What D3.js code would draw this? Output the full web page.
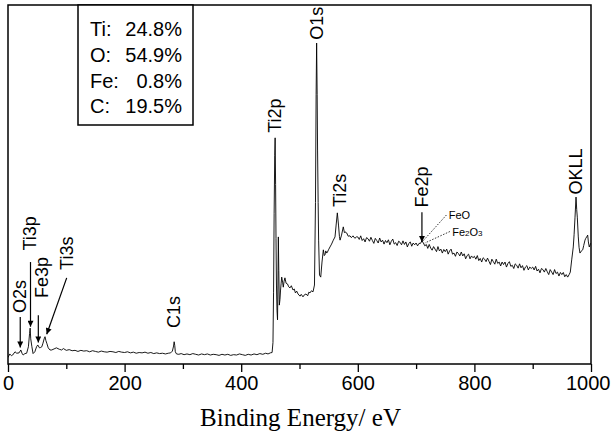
<!DOCTYPE html>
<html><head><meta charset="utf-8">
<script src="https://cdn.jsdelivr.net/npm/d3@7"></script>
<style>body{margin:0;background:#fff} svg{display:block}</style>
</head><body><svg id="c" width="612" height="434"></svg>
<script>
// XPS survey spectrum: [binding energy (eV), intensity (a.u.)]
const spectrum = [
[0,1.8],[3,2.8],[6,2.3],[8,2.5],[12,3.4],[15,3.0],[19,3.1],[22,3.9],[24,3.0],[26,2.5],[29,2.9],[32,3.0],[35,4.8],[37,8.5],[38,10.0],[39,7.0],[41,4.8],[43,2.9],[46,3.4],[49,4.8],[51,5.3],[54,4.5],[56,4.6],[58,4.8],[60,5.8],[62,7.0],[63.5,7.6],[65,6.5],[66.5,5.8],[69,4.5],[72,3.9],[75,3.9],[79,4.2],[83,4.5],[88,4.1],[92,3.9],[95,4.3],[100,3.8],[105,4.0],[110,3.7],[115,3.8],[120,3.5],[125,3.8],[130,3.6],[135,3.7],[140,3.4],[145,3.7],[150,3.5],[155,3.3],[160,3.6],[165,3.4],[170,3.3],[175,3.5],[180,3.4],[185,3.2],[190,3.5],[195,3.3],[200,3.2],[205,3.4],[210,3.1],[215,3.3],[220,3.0],[225,3.2],[230,3.1],[235,3.3],[240,3.0],[245,3.2],[250,2.9],[255,3.1],[260,2.9],[265,3.0],[270,2.8],[275,3.0],[279,3.1],[282,3.6],[284,5.0],[285,6.2],[286,5.2],[287,3.4],[289,2.8],[293,2.7],[297,2.9],[302,2.6],[307,2.8],[312,2.6],[317,2.9],[322,2.7],[327,2.5],[332,2.8],[337,2.6],[342,2.8],[347,2.5],[352,2.7],[357,2.6],[362,2.4],[367,2.7],[372,2.5],[377,2.7],[382,2.4],[387,2.6],[392,2.5],[397,2.8],[402,2.6],[407,2.4],[412,2.7],[417,2.5],[422,2.8],[427,2.6],[432,2.9],[437,2.7],[442,3.0],[446,2.8],[450,3.1],[453,3.2],
[454.5,6],[455.5,20],[456.5,42],[457.5,58],[458.2,63.0],[459,50],[459.7,35],[460.5,22],[461.4,15],[462.3,12.3],[463,22],[463.7,35.4],[464.5,26],[465.4,16.4],[466.5,18],[467.5,20.6],[468.5,22.5],[469.5,24.2],[471,22.8],[472.2,21.4],[473.5,23],[475,24.0],[477,22.5],[479.4,22.3],[481.5,21.5],[483.7,21.2],[486,21.8],[488.9,20.6],[491,20.9],[493,19.8],[495.2,20.3],[497.5,19.5],[500.9,18.9],[503,19.4],[506,18.7],[508.5,19.3],[511.1,19.5],[514,19.0],[516,20.0],[518,19.8],[520.5,20.4],[523.2,20.1],[525.7,22.0],
[527.4,45],[528.5,75],[529.4,89.4],[530.3,75],[531,59.6],[532,45],[532.8,34.5],[534.3,24.8],[536.4,24.2],[538.6,28.4],[540.9,31.8],[542.5,30.2],[543.7,30.4],[545,31.5],[546.7,30.9],[548,31.2],[549.7,31.8],[552.3,32.6],[555,33.4],[558,34.5],[560.9,35.4],[563,39],[564.9,42.1],[566.9,38.7],[568.5,35.5],[569.6,34.5],[572.1,35.9],[575.1,38.2],[577,36.6],[578,36.8],[581,36.5],[583.5,35.6],[586.6,35.7],[589,35.2],[591.8,35.7],[595,35.0],[597.5,35.4],
[600,35.4],[602.5,34.7],[605,35.7],[607.5,34.4],[610,34.9],[612.5,34.0],[615,35.2],[617.5,34.9],[620,34.2],[622.5,35.3],[625,34.4],[627.5,33.6],[630,35.0],[632.5,34.4],[635,33.7],[637.5,35.1],[640,34.0],[642.5,34.5],[645,33.4],[647.5,34.4],
[650,33.8],[652.5,34.6],[655,33.2],[657.5,34.2],[660,34.8],[662.5,33.4],[665,33.8],[667.5,33.0],[670,34.2],[672.5,33.9],[675,33.2],[677.5,34.3],[680,33.3],[682.5,34.0],[685,32.6],[687.5,33.6],[690,34.0],[692.5,32.8],[695,33.7],[697.5,33.2],
[700,33.7],[702.5,32.9],[705,33.6],[707.5,33.6],[710,34.3],[712.5,33.7],[715,32.9],[717.5,33.3],[720,32.2],[722.5,33.3],[725,32.3],[727.5,31.7],[730,32.7],[732.5,32.0],[735,31.3],[737.5,32.7],[740,31.5],[742.5,32.0],[745,30.9],[747.5,31.9],
[750,31.3],[752.5,32.0],[755,30.6],[757.5,31.5],[760,32.0],[762.5,30.6],[765,30.9],[767.5,30.0],[770,31.2],[772.5,30.8],[775,30.1],[777.5,31.2],[780,30.1],[782.5,30.7],[785,29.3],[787.5,30.2],[790,30.6],[792.5,29.3],[795,30.1],[797.5,29.6],
[800,30.0],[802.5,29.2],[805,30.2],[807.5,28.8],[810,29.4],[812.5,28.4],[815,29.6],[817.5,29.2],[820,28.5],[822.5,29.5],[825,28.6],[827.5,27.7],[830,29.2],[832.5,28.5],[835,27.8],[837.5,29.2],[840,28.0],[842.5,28.4],[845,27.3],[847.5,28.4],
[850,27.7],[852.5,28.4],[855,27.0],[857.5,28.0],[860,28.5],[862.5,27.2],[865,27.5],[867.5,26.6],[870,27.9],[872.5,27.5],[875,26.7],[877.5,27.9],[880,26.8],[882.5,27.4],[885,26.1],[887.5,27.0],[890,27.4],[892.5,26.2],[895,27.0],[897.5,26.6],
[900,27.0],[902.5,26.2],[905,27.2],[907.5,25.9],[910,26.4],[912.5,25.4],[915,26.6],[917.5,26.3],[920,25.6],[922.5,26.6],[925,25.7],[927.5,24.9],[930,26.3],[932.5,25.6],[935,24.9],[937.5,26.3],[940,25.2],[942.5,25.6],[945,24.5],[947.5,25.5],
[950,24.9],[952.5,25.5],[955,24.3],[957.5,24.9],[960,24.2],[962.5,24.9],[964.5,25.6],
[966.9,29.0],[969.6,32.6],[971,36],[972.6,40.9],[974.3,46.5],[975.5,43],[976.5,40.9],[978.2,35.4],[979.5,32.5],[981.1,30.9],[983,31.4],[985.8,31.8],[987.5,33],[989.7,34.5],[991,35.0],[992.6,35.4],[994.3,35.9],[995.5,34],[997,32.6],[998.5,33.2],[1000,33.7]
];
const majorTicks = [0, 200, 400, 600, 800, 1000];
const minorTicks = [100, 300, 500, 700, 900];
const elements = ["Ti:", "O:", "Fe:", "C:"];
const atomicPercent = ["24.8%", "54.9%", "0.8%", "19.5%"];
const xTitle = "Binding Energy/ eV";
// peak labels: text anchored at (be, i) (bottom of rotated text); optional arrow from -> to
const peakLabels = [
  {text:"O2s",  be:20.6, i:14.2, arrow:[[21,13.1],[21,4.6]]},
  {text:"Ti3p", be:38.0, i:31.6, arrow:[[38.6,28.4],[38.6,10.4]]},
  {text:"Fe3p", be:57.5, i:18.4, arrow:[[52,13.6],[52,6.0]]},
  {text:"Ti3s", be:100.5, i:26.2, arrow:[[100.7,24.0],[66.4,8.3]]},
  {text:"C1s",  be:285, i:10.0},
  {text:"Ti2p", be:458.2, i:64.4},
  {text:"O1s",  be:529.4, i:90.3},
  {text:"Ti2s", be:569.5, i:43.7},
  {text:"Fe2p", be:710, i:43.6, arrow:[[710,42.3],[710,34.0]]},
  {text:"OKLL", be:974.3, i:47.2}
];
const chemLabels = [
  {parts:[["FeO",false]], be:756, i:40.3, from:[752,41.5], to:[712,34.3]},
  {parts:[["Fe",false],["2",true],["O",false],["3",true]], be:762, i:35.6, from:[758,36.9], to:[715,33.7]}
];

const svg = d3.select("#c");
const x = d3.scaleLinear().domain([0, 1000]).range([8, 591]);
const y = d3.scaleLinear().domain([0, 100]).range([364, 5]);
const sans = "'Liberation Sans', Arial, Helvetica, sans-serif";

svg.append("defs").append("marker")
  .attr("id", "ah").attr("viewBox", "0 0 10 10").attr("refX", 10).attr("refY", 5)
  .attr("markerUnits", "userSpaceOnUse").attr("markerWidth", 9).attr("markerHeight", 6)
  .attr("orient", "auto")
  .append("path").attr("d", "M0,0L10,5L0,10z").attr("fill", "#000");

svg.append("clipPath").attr("id", "clip").append("rect")
  .attr("x", x(0)).attr("y", y(100)).attr("width", x(1000) - x(0)).attr("height", y(0) - y(100));

// spectrum
svg.append("path").datum(spectrum)
  .attr("clip-path", "url(#clip)")
  .attr("fill", "none").attr("stroke", "#000").attr("stroke-width", 0.9).attr("stroke-linejoin", "round")
  .attr("d", d3.line().x(d => x(d[0])).y(d => y(d[1])));

// x axis
const gx = svg.append("g").attr("transform", `translate(0,${y(0)})`);
gx.call(d3.axisBottom(x).tickValues(majorTicks).tickSize(8).tickSizeOuter(0).tickPadding(4).tickFormat(d3.format("d")));
gx.append("g").call(d3.axisBottom(x).tickValues(minorTicks).tickSize(5).tickSizeOuter(0).tickFormat(""));
gx.selectAll(".domain").remove();
gx.selectAll("line").attr("stroke", "#000").attr("stroke-width", 1.3);
gx.selectAll("text").attr("font-family", sans).attr("font-size", 20).attr("fill", "#000");
gx.selectAll(".tick text").filter(d => d === 1000).attr("text-anchor", "end").attr("dx", 19);

// frame
svg.append("rect").attr("x", x(0)).attr("y", y(100)).attr("width", x(1000) - x(0)).attr("height", y(0) - y(100))
  .attr("fill", "none").attr("stroke", "#000").attr("stroke-width", 1.5);

// axis title
svg.append("text").attr("x", (x(0) + x(1000)) / 2 + 1).attr("y", 426).attr("text-anchor", "middle")
  .attr("font-family", "'Liberation Serif', 'Times New Roman', serif").attr("font-size", 25).attr("fill", "#000")
  .text(xTitle);

// composition box
const box = svg.append("g");
box.append("rect").attr("x", 78).attr("y", y(100)).attr("width", 115).attr("height", 120)
  .attr("fill", "#fff").attr("stroke", "#000").attr("stroke-width", 1.5);
elements.forEach((el, k) => {
  box.append("text").attr("x", 90).attr("y", 36 + k * 25.8).attr("font-family", sans).attr("font-size", 20).text(el);
  box.append("text").attr("x", 182).attr("y", 36 + k * 25.8).attr("text-anchor", "end").attr("font-family", sans).attr("font-size", 20).text(atomicPercent[k]);
});

// peak labels
const pl = svg.append("g");
peakLabels.forEach(p => {
  const px = x(p.be), py = y(p.i);
  pl.append("text").attr("transform", `translate(${px},${py}) rotate(-90)`)
    .attr("dominant-baseline", "central").attr("font-family", sans).attr("font-size", 18).attr("fill", "#000")
    .text(p.text);
  if (p.arrow) {
    pl.append("line").attr("x1", x(p.arrow[0][0])).attr("y1", y(p.arrow[0][1]))
      .attr("x2", x(p.arrow[1][0])).attr("y2", y(p.arrow[1][1]))
      .attr("stroke", "#000").attr("stroke-width", 1.2).attr("marker-end", "url(#ah)");
  }
});

// chemical state labels
chemLabels.forEach(c => {
  pl.append("line").attr("x1", x(c.from[0])).attr("y1", y(c.from[1])).attr("x2", x(c.to[0])).attr("y2", y(c.to[1]))
    .attr("stroke", "#000").attr("stroke-width", 0.8).attr("stroke-dasharray", "1.5,1.5");
  const t = pl.append("text").attr("x", x(c.be)).attr("y", y(c.i)).attr("font-family", sans).attr("font-size", 11).attr("fill", "#000");
  c.parts.forEach(([s, sub]) => {
    t.append("tspan").attr("font-size", sub ? 8 : 11).text(s);
  });
});
</script></body></html>
